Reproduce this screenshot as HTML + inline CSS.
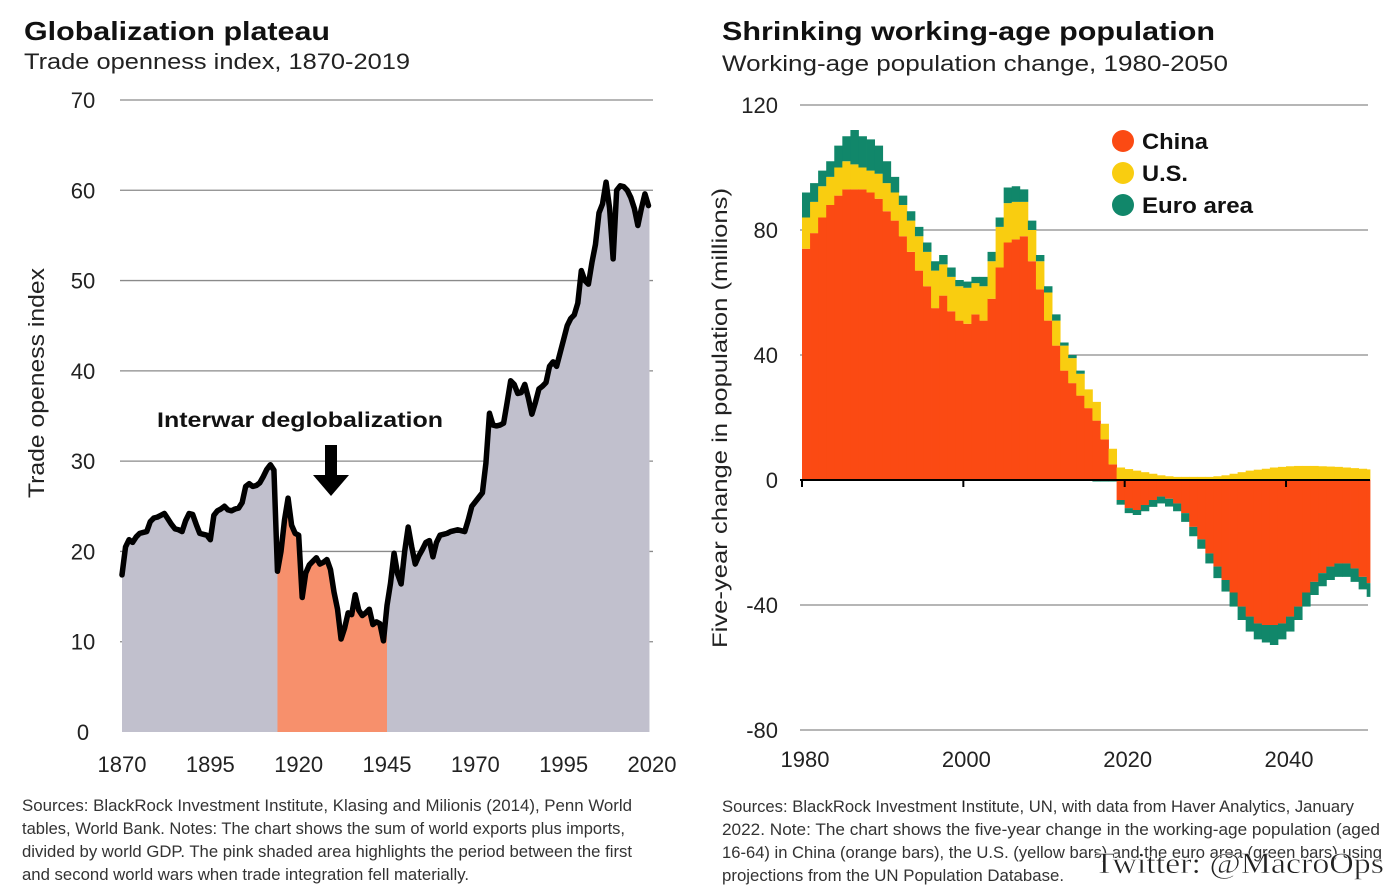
<!DOCTYPE html>
<html><head><meta charset="utf-8"><style>
html,body{margin:0;padding:0;background:#fff;}
svg{display:block;font-family:"Liberation Sans",sans-serif;}
</style></head><body>
<svg id="svg" width="1394" height="896" viewBox="0 0 1394 896">
<g id="left">
<text x="24" y="40" font-size="26" font-weight="bold" fill="#111" textLength="306" lengthAdjust="spacingAndGlyphs">Globalization plateau</text>
<text x="24" y="69" font-size="22" fill="#222" textLength="386" lengthAdjust="spacingAndGlyphs">Trade openness index, 1870-2019</text>
<text transform="translate(44,383) rotate(-90)" text-anchor="middle" font-size="22" fill="#222" textLength="230" lengthAdjust="spacingAndGlyphs">Trade openess index</text>
<g id="lgrid"></g><g id="lfill"></g><g id="lline"></g><g id="laxis"></g>
<text x="157" y="427" font-size="21" font-weight="bold" fill="#111" textLength="286" lengthAdjust="spacingAndGlyphs">Interwar deglobalization</text>
<path d="M325 445 H337 V475 H349 L331 496 L313 475 H325 Z" fill="#000"/>
<text font-size="17" fill="#333">
<tspan x="22" y="811" textLength="610" lengthAdjust="spacingAndGlyphs">Sources: BlackRock Investment Institute, Klasing and Milionis (2014), Penn World</tspan>
<tspan x="22" y="834" textLength="603" lengthAdjust="spacingAndGlyphs">tables, World Bank. Notes: The chart shows the sum of world exports plus imports,</tspan>
<tspan x="22" y="857" textLength="610" lengthAdjust="spacingAndGlyphs">divided by world GDP. The pink shaded area highlights the period between the first</tspan>
<tspan x="22" y="880" textLength="447" lengthAdjust="spacingAndGlyphs">and second world wars when trade integration fell materially.</tspan>
</text>
</g>
<g id="right">
<text x="722" y="40" font-size="26" font-weight="bold" fill="#111" textLength="493" lengthAdjust="spacingAndGlyphs">Shrinking working-age population</text>
<text x="722" y="71" font-size="22" fill="#222" textLength="506" lengthAdjust="spacingAndGlyphs">Working-age population change, 1980-2050</text>
<text transform="translate(727,418) rotate(-90)" text-anchor="middle" font-size="21" fill="#222" textLength="460" lengthAdjust="spacingAndGlyphs">Five-year change in population (millions)</text>
<g id="rgrid"></g><g id="rbars"></g><g id="raxis"></g>
<g>
<g><circle cx="1123" cy="141" r="11" fill="#fb4a13"/><text x="1142" y="149" font-size="22" font-weight="bold" fill="#111" textLength="66" lengthAdjust="spacingAndGlyphs">China</text></g>
<g><circle cx="1123" cy="173" r="11" fill="#f9cd10"/><text x="1142" y="181" font-size="22" font-weight="bold" fill="#111" textLength="46" lengthAdjust="spacingAndGlyphs">U.S.</text></g>
<g><circle cx="1123" cy="205" r="11" fill="#11876a"/><text x="1142" y="213" font-size="22" font-weight="bold" fill="#111" textLength="111" lengthAdjust="spacingAndGlyphs">Euro area</text></g>
</g>
<text font-size="17" fill="#333">
<tspan x="722" y="812" textLength="632" lengthAdjust="spacingAndGlyphs">Sources: BlackRock Investment Institute, UN, with data from Haver Analytics, January</tspan>
<tspan x="722" y="835" textLength="658" lengthAdjust="spacingAndGlyphs">2022. Note: The chart shows the five-year change in the working-age population (aged</tspan>
<tspan x="722" y="858" textLength="660" lengthAdjust="spacingAndGlyphs">16-64) in China (orange bars), the U.S. (yellow bars) and the euro area (green bars) using</tspan>
<tspan x="722" y="881" textLength="342" lengthAdjust="spacingAndGlyphs">projections from the UN Population Database.</tspan>
</text>
<text x="1094" y="873" font-family="'Liberation Serif',serif" font-size="30" fill="#222" stroke="#fff" stroke-width="0.5" textLength="290" lengthAdjust="spacingAndGlyphs">Twitter: @MacroOps</text>
</g>
</svg>
<script>
const NS='http://www.w3.org/2000/svg';
// ---- left chart data ----
const tradeStartYear=1870;
const tradeValues=[17.4,20.5,21.3,21.0,21.6,22.0,22.1,22.2,23.3,23.7,
23.8,24.0,24.2,23.6,23.0,22.5,22.4,22.2,23.4,24.2,
24.1,23.0,22.0,21.9,21.8,21.3,24.0,24.5,24.7,25.0,
24.6,24.5,24.7,24.8,25.4,27.2,27.5,27.2,27.3,27.6,
28.3,29.1,29.6,29.0,17.8,20.0,23.5,25.9,22.9,22.0,
21.8,14.9,17.6,18.5,18.9,19.3,18.6,18.8,19.1,18.0,
15.5,13.6,10.3,11.5,13.2,13.0,15.2,13.5,12.9,13.2,
13.6,11.9,12.2,12.0,10.1,14.0,16.5,19.8,17.5,16.4,
20.0,22.7,20.5,18.6,19.5,20.2,21.0,21.2,19.4,21.0,
21.8,21.9,22.0,22.2,22.3,22.4,22.3,22.2,23.5,25.0,
25.5,26.0,26.5,29.8,35.3,34.0,33.9,34.0,34.2,36.5,
38.9,38.5,37.5,37.6,38.5,37.0,35.2,36.5,38.0,38.3,
38.7,40.5,41.0,40.5,42.0,43.5,45.0,45.8,46.2,47.5,
51.1,50.0,49.6,52.0,54.0,57.5,58.5,60.9,58.0,52.4,
60.0,60.5,60.4,60.0,59.2,58.0,56.1,58.0,59.6,58.3];
const interwarRange=[1914,1945];
const leftYTicks=[0,10,20,30,40,50,60,70];
const leftXTicks=[1870,1895,1920,1945,1970,1995,2020];
// ---- right chart data ----
const popStartYear=1980;
const chinaChange=[74,79,84,88,91,93,93,93,92,90,
86,83,78,73,67,62,55,59,54,51,
50,53,51,58,68,76,77,78,70,61,
51,43,35,31,27,23,19,13,5,
-6.4,-9,-9.6,-8,-6.4,-5.3,-6,-7.5,-10.6,-15,-19,
-23.5,-27.7,-32,-36,-40.5,-43.7,-45.9,-46.4,-46.4,-45.9,
-43.7,-40.5,-36,-32.6,-29.8,-27.7,-26.7,-26.7,-28.3,-31,-33];
const usChange=[10,10,10,9,9,9,8,7,7,8,9,9,10,10,11,11,12,10,11,11,
11.5,10,11,12,13,12.6,12,11,10,9,9,8,8,8,7,6,6,5,5,
4,3.5,3,2.5,2,1.5,1.2,1,1,1,1,1,1.2,1.5,2,2.5,3,3.3,3.6,4,4.2,4.4,4.5,4.5,4.5,4.4,4.3,4.2,4,3.8,3.6,3.4];
const euroChange=[8,6,5,5,7,8,11,10,10,9,7,5,3,3,3,3,3,3,3,2,
2,2,3,3,3,5,5,4,3,2,2,2,1,1,1,0,-0.5,-0.5,-0.5,
-1.5,-1.6,-1.6,-2,-2.2,-2.2,-2.5,-2.5,-2.8,-3,-3,-3.2,-3.7,-3.7,-4.5,-4.3,-4.8,-5.1,-5.6,-6.4,-5.1,-4.8,-4.3,-4.5,-4.2,-4.2,-4.3,-4.3,-4.3,-4.3,-4,-4.4];
const rightYTicks=[-80,-40,0,40,80,120];
const rightXTicks=[1980,2000,2020,2040];

function mk(tag,attrs,parent){const e=document.createElementNS(NS,tag);for(const k in attrs)e.setAttribute(k,attrs[k]);parent.appendChild(e);return e;}
const lx=yr=>122+(yr-1870)*(530/150);
const ly=v=>732-v*(632/70);
const lgrid=document.getElementById('lgrid');
leftYTicks.forEach(t=>{
  if(t>0){const g=mk('line',{x1:120,x2:653,y1:ly(t),y2:ly(t),stroke:'#8a8a8a','stroke-width':1.3},lgrid);
  
  }
  const tx=mk('text',{x:83,y:ly(t)+8,'text-anchor':'middle','font-size':22,fill:'#222'},lgrid);
  tx.textContent=t;
  
  
});
leftXTicks.forEach(t=>{
  const tx=mk('text',{x:lx(t),y:772,'text-anchor':'middle','font-size':22,fill:'#222'},lgrid);
  tx.textContent=t;
  
  
});
const pts=tradeValues.map((v,i)=>[lx(tradeStartYear+i),ly(v)]);
const lastX=pts[pts.length-1][0]+1;
const lfill=document.getElementById('lfill');
let d='M'+pts[0][0]+' '+ly(0)+pts.map(p=>' L'+p[0]+' '+p[1]).join('')+' L'+lastX+' '+pts[pts.length-1][1]+' L'+lastX+' '+ly(0)+' Z';
const area=mk('path',{d:d,fill:'#c1c0cd'},lfill);


const i0=interwarRange[0]-tradeStartYear,i1=interwarRange[1]-tradeStartYear;
const sub=pts.slice(i0,i1+1);
let dp='M'+sub[0][0]+' '+ly(0)+sub.map(p=>' L'+p[0]+' '+p[1]).join('')+' L'+sub[sub.length-1][0]+' '+ly(0)+' Z';
const pink=mk('path',{d:dp,fill:'#f7906c'},lfill);


const line=mk('polyline',{points:pts.map(p=>p.join(',')).join(' '),fill:'none',stroke:'#000','stroke-width':5.5,'stroke-linejoin':'round','stroke-linecap':'round'},document.getElementById('lline'));



const rx=yr=>802+(yr-1980)*8.067;
const ry=v=>480-v*(375/120);
const rgrid=document.getElementById('rgrid');
rightYTicks.forEach(t=>{
  if(t!==0){const g=mk('line',{x1:800,x2:1368,y1:ry(t),y2:ry(t),stroke:'#8a8a8a','stroke-width':1.3},rgrid);
  
  }
  const tx=mk('text',{x:778,y:ry(t)+8,'text-anchor':'end','font-size':22,fill:'#222'},rgrid);
  tx.textContent=t;
  
  
});
const rbars=document.getElementById('rbars');
const colors={china:'#fb4a13',us:'#f9cd10',euro:'#11876a'};
chinaChange.forEach((c,i)=>{
  const yr=popStartYear+i;
  const x0=rx(yr),x1=Math.min(rx(yr+1),1370);
  let pos=0,neg=0;
  [['china',c],['us',usChange[i]],['euro',euroChange[i]]].forEach(([k,v])=>{
    let a,b;
    if(v>=0){a=pos;b=pos+v;pos=b;}else{a=neg;b=neg+v;neg=b;}
    const top=Math.min(ry(a),ry(b)),h=Math.abs(ry(a)-ry(b));
    const r=mk('rect',{x:x0,y:top,width:x1-x0+0.4,height:h,fill:colors[k]},rbars);
    
    
  });
});
const raxis=document.getElementById('raxis');
const zl=mk('line',{x1:800,x2:1370,y1:ry(0),y2:ry(0),stroke:'#000','stroke-width':2},raxis);


rightXTicks.forEach(t=>{
  const tk=mk('line',{x1:rx(t),x2:rx(t),y1:ry(0),y2:ry(0)+7,stroke:'#000','stroke-width':2},raxis);
  
  
  const tx=mk('text',{x:rx(t)+3,y:767,'text-anchor':'middle','font-size':22,fill:'#222'},raxis);
  tx.textContent=t;
  
  
});
</script>
</body></html>
